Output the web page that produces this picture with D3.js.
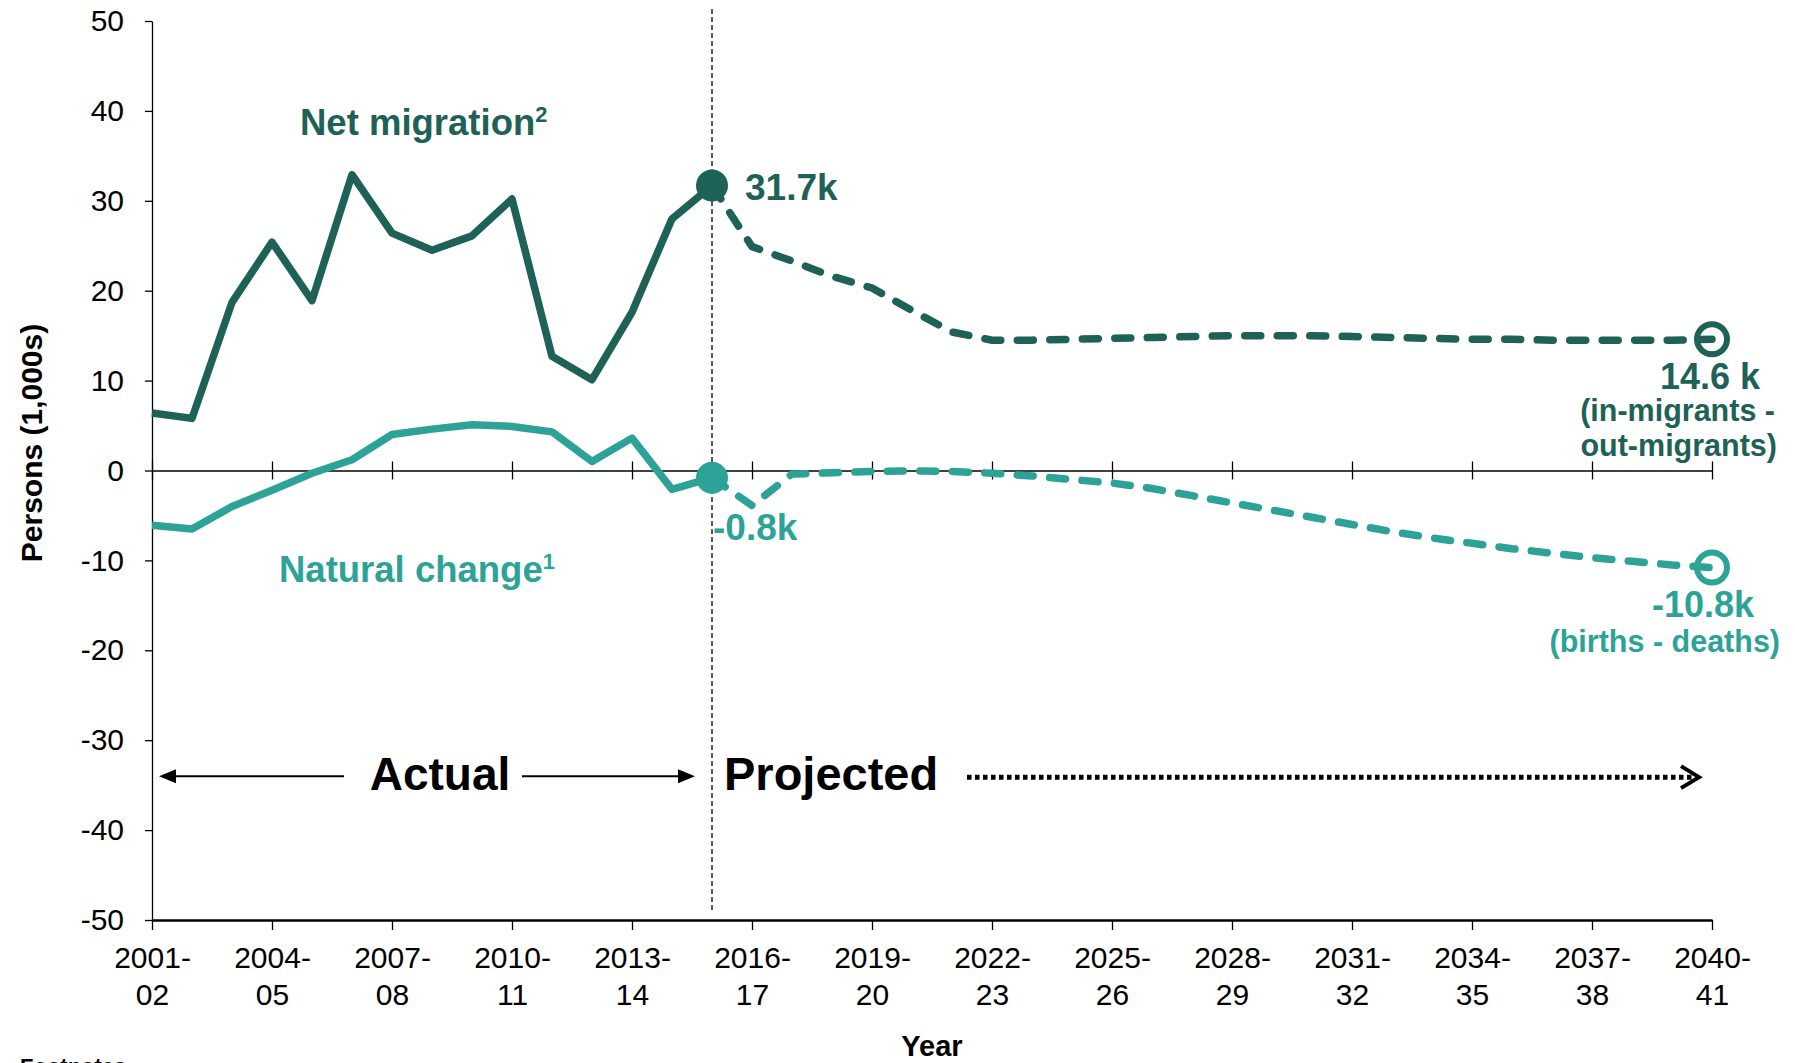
<!DOCTYPE html>
<html>
<head>
<meta charset="utf-8">
<script src="https://cdn.jsdelivr.net/npm/d3@7"></script>
<style>
  body { margin: 0; background: #fff; }
  svg { display: block; font-family: "Liberation Sans", Arial, sans-serif; }
</style>
</head>
<body>
<svg id="chart" width="1795" height="1063"></svg>
<script>
// Categories (financial years)
const years = [
  "2001-02", "2002-03", "2003-04", "2004-05", "2005-06", "2006-07", "2007-08", "2008-09",
  "2009-10", "2010-11", "2011-12", "2012-13", "2013-14", "2014-15", "2015-16", "2016-17",
  "2017-18", "2018-19", "2019-20", "2020-21", "2021-22", "2022-23", "2023-24", "2024-25",
  "2025-26", "2026-27", "2027-28", "2028-29", "2029-30", "2030-31", "2031-32", "2032-33",
  "2033-34", "2034-35", "2035-36", "2036-37", "2037-38", "2038-39", "2039-40", "2040-41"
];
const projStart = 14; // 2015-16, last actual year / first projected point

// Net migration (1,000s)
const netActual = [6.4, 5.8, 18.7, 25.4, 18.9, 32.9, 26.4, 24.5, 26.1, 30.2, 12.7, 10.1, 17.6, 28.0, 31.7];
const netProjected = [31.7, 24.9, 23.3, 21.6, 20.3, 17.8, 15.4, 14.5, 14.5, 14.6, 14.7, 14.8, 14.9,
  15.0, 15.0, 15.0, 14.9, 14.8, 14.7, 14.6, 14.6, 14.5, 14.5, 14.5, 14.5, 14.6];

// Natural change (1,000s)
const natActual = [-6.1, -6.5, -4.0, -2.2, -0.3, 1.2, 4.0, 4.6, 5.1, 4.9, 4.3, 1.0, 3.6, -2.1, -0.8];
const natProjected = [-0.8, -3.9, -0.4, -0.25, -0.1, -0.05, -0.1, -0.3, -0.6, -1.0, -1.4, -2.0, -2.8,
  -3.6, -4.4, -5.2, -6.0, -6.8, -7.5, -8.1, -8.7, -9.2, -9.7, -10.1, -10.5, -10.8];

const yTicks = [50, 40, 30, 20, 10, 0, -10, -20, -30, -40, -50];
const xTicks = years.filter((d, i) => i % 3 === 0);

const netColor = "#1e6157";
const natColor = "#2da397";
const font = "'Liberation Sans', Arial, sans-serif";

const svg = d3.select("#chart");

const x = d3.scalePoint().domain(years).range([152, 1712]);
const y = d3.scaleLinear().domain([-50, 50]).range([920, 21]);

// Y axis
svg.append("g")
    .attr("transform", `translate(${x(years[0])},0)`)
    .call(d3.axisLeft(y).tickValues(yTicks).tickSize(7).tickSizeOuter(0).tickPadding(21)
        .tickFormat(d => String(d)))
    .call(g => g.attr("font-size", 30).attr("font-family", font))
    .call(g => g.selectAll("line, path").attr("stroke", "#000").attr("stroke-width", 1.3))
    .call(g => g.selectAll("text").attr("fill", "#000"));

// Zero line with crossing ticks
svg.append("g")
    .attr("transform", `translate(0,${y(0)})`)
    .call(d3.axisBottom(x).tickValues(xTicks).tickSize(9).tickSizeOuter(0).tickFormat(""))
    .call(g => g.selectAll("line").attr("y1", -9).attr("stroke", "#000").attr("stroke-width", 1.3))
    .call(g => g.select(".domain").attr("stroke", "#000").attr("stroke-width", 1.3));

// Bottom category axis
svg.append("g")
    .attr("transform", `translate(0,${y(-50)})`)
    .call(d3.axisBottom(x).tickValues(xTicks).tickSize(10).tickSizeOuter(0))
    .call(g => g.attr("font-size", 30).attr("font-family", font))
    .call(g => g.select(".domain").attr("stroke", "#000").attr("stroke-width", 2.5))
    .call(g => g.selectAll(".tick line").attr("stroke", "#000").attr("stroke-width", 1.3))
    .call(g => g.selectAll(".tick text").each(function(d) {
        const parts = d.split("-");
        const t = d3.select(this).text(null).attr("dy", null).attr("fill", "#000");
        t.append("tspan").attr("x", 0).attr("y", 48).text(parts[0] + "-");
        t.append("tspan").attr("x", 0).attr("y", 85).text(parts[1]);
    }));

// Actual / projected divider
const xDiv = x(years[projStart]);
svg.append("line")
    .attr("x1", xDiv).attr("x2", xDiv)
    .attr("y1", y(50) - 12).attr("y2", y(-50) - 8)
    .attr("stroke", "#000").attr("stroke-width", 1.3)
    .attr("stroke-dasharray", "5,3");

// Lines
const line = d3.line().x(d => x(d.year)).y(d => y(d.v));
const toPts = (arr, offset) => arr.map((v, i) => ({ year: years[i + offset], v }));

const series = [
    { color: natColor, actual: toPts(natActual, 0), proj: toPts(natProjected, projStart) },
    { color: netColor, actual: toPts(netActual, 0), proj: toPts(netProjected, projStart) }
];

series.forEach(s => {
    svg.append("path").datum(s.proj)
        .attr("fill", "none").attr("stroke", s.color).attr("stroke-width", 7.5)
        .attr("stroke-linecap", "round").attr("stroke-dasharray", "16,16.5")
        .attr("d", line);
    svg.append("path").datum(s.actual)
        .attr("fill", "none").attr("stroke", s.color).attr("stroke-width", 7.5)
        .attr("stroke-linejoin", "round")
        .attr("d", line);
    const first = s.proj[0], last = s.proj[s.proj.length - 1];
    svg.append("circle")
        .attr("cx", x(first.year)).attr("cy", y(first.v)).attr("r", 16)
        .attr("fill", s.color);
    svg.append("circle")
        .attr("cx", x(last.year)).attr("cy", y(last.v)).attr("r", 15)
        .attr("fill", "none").attr("stroke", s.color).attr("stroke-width", 6);
});

// Text helper
function label(txt, px, py, size, color, anchor) {
    return svg.append("text")
        .attr("x", px).attr("y", py)
        .attr("font-size", size).attr("font-weight", "bold")
        .attr("fill", color).attr("text-anchor", anchor || "start")
        .text(txt);
}
function supLabel(txt, sup, px, py, size, color) {
    const t = label(txt, px, py, size, color);
    t.append("tspan").attr("font-size", size * 0.6).attr("dy", -size * 0.36).text(sup);
    return t;
}

const xEnd = x(years[years.length - 1]);

// Series labels
supLabel("Net migration", "2", 300, 135, 36.5, netColor);
supLabel("Natural change", "1", 279, 582, 36.5, natColor);

// Value labels
label("31.7k", xDiv + 33, 200, 37, netColor);
label("-0.8k", xDiv + 1, 540, 37, natColor);
label("14.6 k", xEnd + 48, 389, 36, netColor, "end");
label("(in-migrants -", xEnd + 63, 421, 30.5, netColor, "end");
label("out-migrants)", xEnd + 65, 456, 30.5, netColor, "end");
label("-10.8k", xEnd + 42, 617, 36, natColor, "end");
label("(births - deaths)", xEnd + 68, 652, 30.5, natColor, "end");

// Actual / Projected annotation
const ay = y(-34);
label("Actual", 440, 790, 46, "#000", "middle");
label("Projected", xDiv + 12, 790, 47, "#000");

svg.append("line").attr("x1", 172).attr("x2", 344).attr("y1", ay).attr("y2", ay)
    .attr("stroke", "#000").attr("stroke-width", 2);
svg.append("path").attr("d", `M159,${ay}L176,${ay - 7}L176,${ay + 7}Z`).attr("fill", "#000");

svg.append("line").attr("x1", 522).attr("x2", xDiv - 30).attr("y1", ay).attr("y2", ay)
    .attr("stroke", "#000").attr("stroke-width", 2);
svg.append("path").attr("d", `M${xDiv - 17},${ay}L${xDiv - 34},${ay - 7}L${xDiv - 34},${ay + 7}Z`)
    .attr("fill", "#000");

svg.append("line").attr("x1", 967).attr("x2", xEnd - 20).attr("y1", ay + 1).attr("y2", ay + 1)
    .attr("stroke", "#000").attr("stroke-width", 5).attr("stroke-dasharray", "4.5,3.5");
svg.append("path").attr("d", `M${xEnd - 31},${ay - 10}L${xEnd - 13},${ay + 1}L${xEnd - 31},${ay + 12}`)
    .attr("fill", "none").attr("stroke", "#000").attr("stroke-width", 4);

// Axis titles
svg.append("text")
    .attr("transform", "translate(42,443) rotate(-90)")
    .attr("text-anchor", "middle").attr("font-size", 30).attr("font-weight", "bold")
    .text("Persons (1,000s)");
label("Year", (x.range()[0] + x.range()[1]) / 2, 1056, 29, "#000", "middle");
label("Footnotes", 20, 1074, 22, "#000");
</script>
</body>
</html>
